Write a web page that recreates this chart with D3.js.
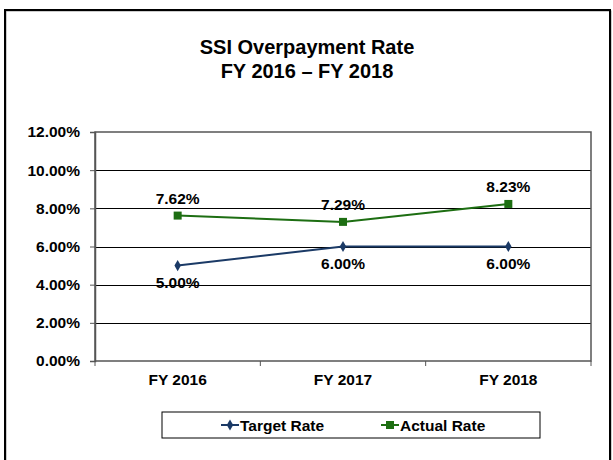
<!DOCTYPE html>
<html lang="en">
<head>
  <meta charset="UTF-8">
  <title>SSI Overpayment Rate</title>
  <script src="https://cdn.jsdelivr.net/npm/d3@7"></script>
  <style>
    body { margin: 0; background: #fff; }
    svg text { font-family: "Liberation Sans", Arial, sans-serif; font-weight: bold; fill: #000; }
  </style>
</head>
<body>
  <svg width="613" height="460"></svg>
  <script>
    var years = ["FY 2016", "FY 2017", "FY 2018"];
    var targetRate = [5.00, 6.00, 6.00];
    var actualRate = [7.62, 7.29, 8.23];
    var yTicks = [0, 2, 4, 6, 8, 10, 12];

    var svg = d3.select("svg");

    // outer chart frame
    svg.append("rect")
      .attr("x", 6).attr("y", 11).attr("width", 605).attr("height", 460)
      .attr("fill", "none").attr("stroke", "#999").attr("stroke-width", 1);
    svg.append("rect")
      .attr("x", 5).attr("y", 10).attr("width", 605).attr("height", 460)
      .attr("fill", "none").attr("stroke", "#000").attr("stroke-width", 2);

    svg.append("text").attr("x", 307).attr("y", 54)
      .attr("text-anchor", "middle").style("font-size", "20px")
      .text("SSI Overpayment Rate");
    svg.append("text").attr("x", 307).attr("y", 78)
      .attr("text-anchor", "middle").style("font-size", "20px")
      .text("FY 2016 \u2013 FY 2018");

    var plotL = 95, plotR = 591, plotT = 132, plotB = 361;

    var x = d3.scaleBand().domain(years).range([plotL, plotR]);
    var y = d3.scaleLinear().domain([0, 12]).range([plotB, plotT]);

    // gridlines
    svg.append("g")
      .selectAll("line")
      .data(yTicks.filter(d => d > 0 && d < 12))
      .enter()
      .append("line")
      .attr("x1", plotL).attr("x2", plotR)
      .attr("y1", d => Math.round(y(d)) + 0.5).attr("y2", d => Math.round(y(d)) + 0.5)
      .attr("stroke", "#000").attr("stroke-width", 1);

    // plot border
    svg.append("rect")
      .attr("x", plotL).attr("y", plotT).attr("width", plotR - plotL).attr("height", plotB - plotT)
      .attr("fill", "none").attr("stroke", "#555").attr("stroke-width", 1.5);

    var yAxis = svg.append("g")
      .attr("transform", "translate(" + plotL + ",0)")
      .call(d3.axisLeft(y).tickValues(yTicks).tickSize(5).tickPadding(10)
        .tickFormat(d => d.toFixed(2) + "%"));
    yAxis.select(".domain").attr("stroke", "#555").attr("stroke-width", 1.5);
    yAxis.selectAll(".tick line").attr("stroke", "#555");
    yAxis.selectAll("text").style("font-size", "15.5px").attr("fill", "#000");

    var xAxis = svg.append("g")
      .attr("transform", "translate(0," + plotB + ")")
      .call(d3.axisBottom(x).tickSize(0).tickPadding(13));
    xAxis.select(".domain").remove();
    xAxis.selectAll("text").style("font-size", "15.5px").attr("fill", "#000");

    // category boundary ticks on the x axis
    svg.append("g")
      .selectAll("line")
      .data(years)
      .enter()
      .append("line")
      .attr("x1", d => x(d) + x.bandwidth()).attr("x2", d => x(d) + x.bandwidth())
      .attr("y1", plotB).attr("y2", plotB + 5)
      .attr("stroke", "#555").attr("stroke-width", 1);
    svg.append("line")
      .attr("x1", plotL).attr("x2", plotL).attr("y1", plotB).attr("y2", plotB + 5)
      .attr("stroke", "#555");

    var cx = (d, i) => x(years[i]) + x.bandwidth() / 2;
    var line = d3.line().x(cx).y(d => y(d));

    var navy = "#1b3a66", green = "#1d6e12";

    svg.append("path").datum(actualRate).attr("d", line)
      .attr("fill", "none").attr("stroke", green).attr("stroke-width", 2);
    svg.append("path").datum(targetRate).attr("d", line)
      .attr("fill", "none").attr("stroke", navy).attr("stroke-width", 2);

    svg.append("g").selectAll("rect")
      .data(actualRate).enter().append("rect")
      .attr("x", (d, i) => cx(d, i) - 4).attr("y", d => y(d) - 4)
      .attr("width", 8).attr("height", 8).attr("fill", green);

    svg.append("g").selectAll("path")
      .data(targetRate).enter().append("path")
      .attr("d", d3.symbol().type(d3.symbolDiamond).size(36))
      .attr("transform", (d, i) => "translate(" + cx(d, i) + "," + y(d) + ")")
      .attr("fill", navy);

    // data labels
    svg.append("g").selectAll("text")
      .data(actualRate).enter().append("text")
      .attr("x", (d, i) => cx(d, i)).attr("y", d => y(d) - 12)
      .attr("text-anchor", "middle").style("font-size", "15.5px")
      .text(d => d.toFixed(2) + "%");
    svg.append("g").selectAll("text")
      .data(targetRate).enter().append("text")
      .attr("x", (d, i) => cx(d, i)).attr("y", d => y(d) + 22)
      .attr("text-anchor", "middle").style("font-size", "15.5px")
      .text(d => d.toFixed(2) + "%");

    // legend
    var lg = svg.append("g");
    lg.append("rect").attr("x", 162).attr("y", 412).attr("width", 378).attr("height", 26)
      .attr("fill", "#fff").attr("stroke", "#000").attr("stroke-width", 1);
    lg.append("line").attr("x1", 221).attr("x2", 239).attr("y1", 425).attr("y2", 425)
      .attr("stroke", navy).attr("stroke-width", 2);
    lg.append("path").attr("d", d3.symbol().type(d3.symbolDiamond).size(36))
      .attr("transform", "translate(230,425)").attr("fill", navy);
    lg.append("text").attr("x", 240).attr("y", 430.5).style("font-size", "15.5px").text("Target Rate");
    lg.append("line").attr("x1", 381).attr("x2", 399).attr("y1", 425).attr("y2", 425)
      .attr("stroke", green).attr("stroke-width", 2);
    lg.append("rect").attr("x", 386).attr("y", 421).attr("width", 8).attr("height", 8).attr("fill", green);
    lg.append("text").attr("x", 400).attr("y", 430.5).style("font-size", "15.5px").text("Actual Rate");
  </script>
</body>
</html>
